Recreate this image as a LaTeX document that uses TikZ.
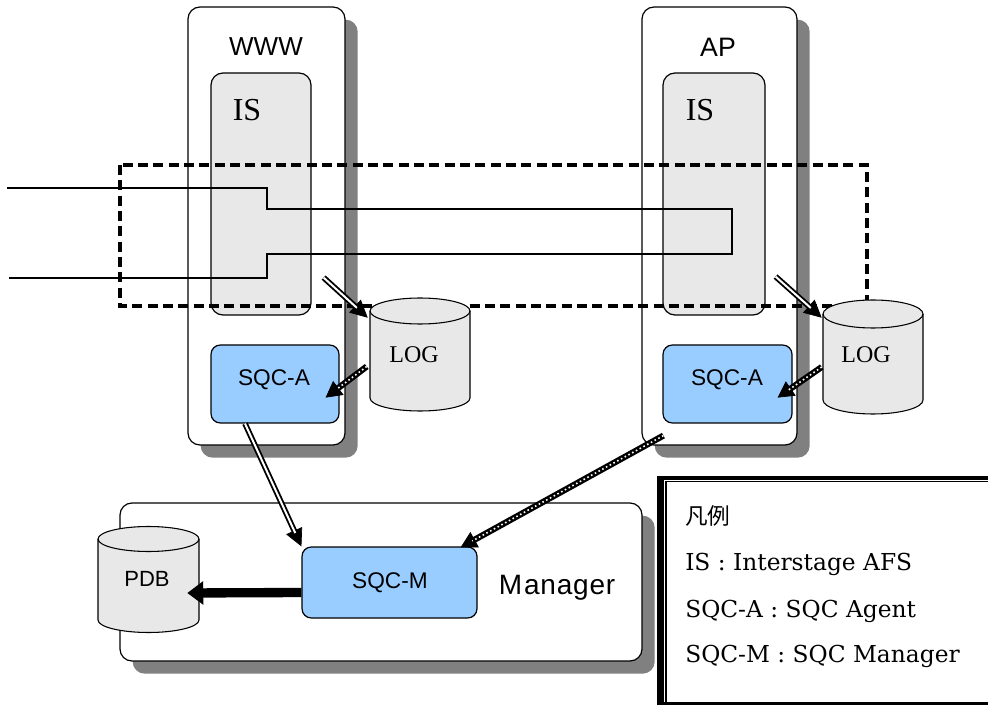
\documentclass[tikz,border=0pt]{standalone}
\usepackage{fontspec}
\setmainfont{Liberation Serif}
\setsansfont{Liberation Sans}
\newfontfamily\legendfont{DejaVu Serif}
\newfontfamily\cjkfont{Noto Sans CJK JP}
\usetikzlibrary{arrows.meta,fit,shadows,calc}
\definecolor{isgray}{HTML}{E8E8E8}
\definecolor{agentblue}{HTML}{99CCFF}
\definecolor{shadowgray}{HTML}{808080}

% database drum: centre x, top ellipse y, bottom ellipse y, x radius, y radius
\newcommand\drum[5]{%
  \filldraw[fill=isgray, draw=black, line width=0.8pt]
    ({#1-#4},#2) -- ({#1-#4},#3)
    arc[start angle=180, end angle=0, x radius=#4, y radius=#5]
    -- ({#1+#4},#2)
    arc[start angle=0, end angle=-180, x radius=#4, y radius=#5] -- cycle;
  \draw[line width=0.8pt] ({#1-#4},#2)
    arc[start angle=180, end angle=0, x radius=#4, y radius=#5];}

% hollow (double) shaft with a solid head
\newcommand\dblarrow[2]{%
  \draw[line width=0.5pt, -{Triangle[length=13pt,width=13pt]}] (#1) -- (#2);
  \draw[line width=1.4pt, double=white, double distance=1.5pt, shorten >=11pt] (#1) -- (#2);}

% speckled shaft with a solid head
\newcommand\dotarrow[2]{%
  \draw[line width=0.5pt, -{Triangle[length=12pt,width=13pt]}] (#1) -- (#2);
  \draw[line width=4.6pt, shorten >=10pt] (#1) -- (#2);
  \draw[white, line width=1.2pt, dash pattern=on 1.2pt off 2pt, shorten >=10pt] (#1) -- (#2);}

\begin{document}
\begin{tikzpicture}[x=0.75pt, y=-0.75pt,
  host/.style={draw=black, line width=0.9pt, fill=white, rounded corners=9pt, inner sep=0pt,
    drop shadow={shadow xshift=9.5pt, shadow yshift=-9.5pt, fill=shadowgray, opacity=1}},
  isbox/.style={draw=black, line width=0.9pt, fill=isgray, rounded corners=9pt, inner sep=0pt},
  agent/.style={draw=black, line width=0.9pt, fill=agentblue, rounded corners=7pt, inner sep=0pt},
  hole/.style={inner sep=0pt},
  sanslbl/.style={font=\sffamily\fontsize{17}{17}\selectfont, inner sep=0pt},
  seriflbl/.style={font=\fontsize{18}{18}\selectfont, inner sep=0pt},
  legendline/.style={font=\legendfont\fontsize{17.5}{18}\selectfont, inner sep=0pt, anchor=base west}
]
\useasboundingbox (0,0) rectangle (988,705);
\fill[white] (0,0) rectangle (988,705);

% hosts
\node[host, fit={(188,7) (345,445)}] (www) {};
\node[host, fit={(642,7) (797,445)}] (ap) {};
\node[host, fit={(120,503) (642,661)}] (mgr) {};

\node[font=\sffamily\fontsize{19.5}{20}\selectfont, inner sep=0pt] (wwwlbl) at (266,47) {WWW};
\node[font=\sffamily\fontsize{20}{20}\selectfont, inner sep=0pt] (aplbl) at (718,47) {AP};
\node[font=\sffamily\fontsize{21}{21}\selectfont, inner sep=0pt] (mgrlbl) at (557,588) {M\kern1.5pt a\kern0.6pt n\kern0.6pt a\kern0.6pt g\kern0.6pt e\kern0.6pt r};

% Interstage and agent boxes
\node[isbox, fit={(211,73) (311,315)}] (isL) {};
\node[isbox, fit={(663,73) (765,315)}] (isR) {};
\node[font=\fontsize{24}{24}\selectfont, inner sep=0pt] (isLlbl) at (247,110) {IS};
\node[font=\fontsize{24}{24}\selectfont, inner sep=0pt] (isRlbl) at (700,110) {IS};

\node[agent, fit={(211,345) (339,423)}] (sqcaL) {};
\node[agent, fit={(663,345) (792,423)}] (sqcaR) {};
\node[agent, fit={(302,547) (477,618)}] (sqcm) {};
\node[sanslbl] (sqcaLlbl) at (274,380) {SQC-A};
\node[sanslbl] (sqcaRlbl) at (727,380) {SQC-A};
\node[sanslbl] (sqcmlbl) at (390,583) {SQC-M};

% traced request region
\draw[line width=2.6pt, dash pattern=on 7.5pt off 4pt] (120,165) rectangle (867,306);

% request path through both servers
\draw[line width=1pt] (7,188) -- (267,188) -- (267,209) -- (732,209) -- (732,254)
  -- (267,254) -- (267,278) -- (9,278);

% log and performance databases
\drum{420}{311}{398}{50}{13}
\drum{873}{314}{400}{50}{14}
\drum{148.5}{539}{620}{50.5}{12.5}
\node[hole, fit={(370,298) (470,411)}] (logL) {};
\node[hole, fit={(823,300) (923,414)}] (logR) {};
\node[hole, fit={(98,527) (199,633)}] (pdb) {};
\node[seriflbl] (logLlbl) at (414,355) {LOG};
\node[seriflbl] (logRlbl) at (866,355) {LOG};
\node[font=\sffamily\fontsize{16.5}{17}\selectfont, inner sep=0pt] (pdblbl) at (147,579) {PDB};

% data flows
\coordinate (a1s) at ($(isL.south east)+(12,-38)$);
\coordinate (a1e) at ($(logL.north west)+(-2,20)$);
\coordinate (a2s) at ($(isR.south east)+(10,-39)$);
\coordinate (a2e) at ($(logR.north west)+(-1,18)$);
\coordinate (a3s) at ($(logL.west)+(-3,12)$);
\coordinate (a3e) at ($(sqcaL.south east)+(-14,-26)$);
\coordinate (a4s) at ($(logR.west)+(-1,10)$);
\coordinate (a4e) at ($(sqcaR.south east)+(-15,-26)$);
\coordinate (a5s) at ($(sqcaL.south)+(-30,0)$);
\coordinate (a5e) at ($(sqcm.north west)+(0,0)$);
\coordinate (a6s) at ($(ap.south west)+(22,-10)$);
\coordinate (a6e) at ($(sqcm.north east)+(-17,1)$);
\coordinate (a7s) at ($(sqcm.west)+(0,10)$);
\coordinate (a7e) at ($(pdb.east)+(-12,13)$);

\dblarrow{a1s}{a1e}
\dblarrow{a2s}{a2e}
\dotarrow{a3s}{a3e}
\dotarrow{a4s}{a4e}
\dblarrow{a5s}{a5e}
\dotarrow{a6s}{a6e}
\draw[line width=7pt, -{Triangle[length=12pt,width=17pt]}] (a7s) -- (a7e);

% legend frame: heavy bars on the left and top, thin inner rule
\fill[black] (657,476) rectangle (664,705);
\fill[black] (657,476) rectangle (988,479.5);
\fill[black] (657,701.8) rectangle (988,705);
\draw[line width=0.9pt] (666,705) -- (666,481.5) -- (988,481.5);
\node[font=\cjkfont\fontsize{17}{18}\selectfont, inner sep=0pt, anchor=west] (legtitle) at (685,516) {凡例};
\node[legendline] (leg1) at (685,570) {IS : Interstage AFS};
\node[legendline] (leg2) at (685,617) {SQC-A : SQC Agent};
\node[legendline] (leg3) at (685,662) {SQC-M : SQC Manager};
\end{tikzpicture}
\end{document}
